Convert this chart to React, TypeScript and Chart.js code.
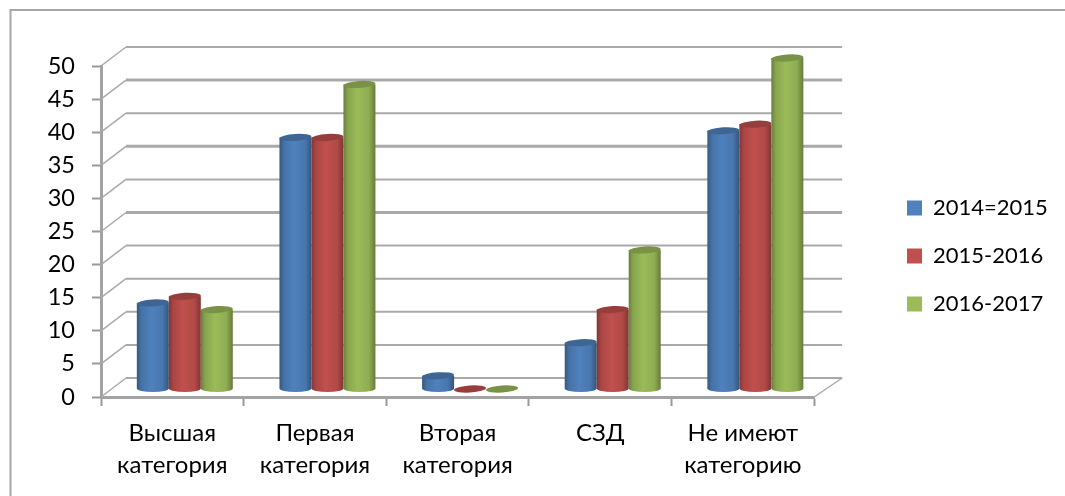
import React, { useEffect, useRef } from "react";
import { Chart, BarController, BarElement, registerables } from "chart.js";

const categories = [
  ["Высшая", "категория"],
  ["Первая", "категория"],
  ["Вторая", "категория"],
  ["СЗД"],
  ["Не имеют", "категорию"],
];
const series1Name = "2014=2015";
const series2Name = "2015-2016";
const series3Name = "2016-2017";
const series1 = [13, 38, 2, 7, 39];
const series2 = [14, 38, 0, 12, 40];
const series3 = [12, 46, 0, 21, 50];
const colours = ["#4F81BD", "#C0504D", "#9BBB59"];

const FONT = "Lato, 'Open Sans', sans-serif";
const GRID = "#a9a9a9";
const WALL_DX = 25;
const WALL_DY = -19;
const BAR_DX = 12.5;
const BAR_DY = -8;
const RIGHT_WALL_DX = 28;

function shade(hex: string, f: number) {
  const n = parseInt(hex.slice(1), 16);
  const c = [(n >> 16) & 255, (n >> 8) & 255, n & 255].map((v) => Math.round(v * f));
  return `rgb(${c[0]},${c[1]},${c[2]})`;
}

class CylinderBar extends BarElement {
  static id = "cylinderBar";
  draw(ctx: CanvasRenderingContext2D) {
    const { x, y, base, width } = (this as any).getProps(["x", "y", "base", "width"]);
    const col = (this as any).options.backgroundColor as string;
    const l = x - width / 2 + BAR_DX;
    const r = x + width / 2 + BAR_DX;
    const cx = (l + r) / 2;
    const rx = width / 2;
    const ry = 3.5;
    const yt = y + BAR_DY;
    const yb = base + BAR_DY;
    ctx.save();
    ctx.filter = "blur(0.6px)";
    if (yb - yt > 0.5) {
      const g = ctx.createLinearGradient(l, 0, r, 0);
      g.addColorStop(0, shade(col, 0.68));
      g.addColorStop(0.14, shade(col, 0.88));
      g.addColorStop(0.45, col);
      g.addColorStop(0.8, shade(col, 0.92));
      g.addColorStop(1, shade(col, 0.66));
      ctx.fillStyle = g;
      ctx.beginPath();
      ctx.moveTo(l, yt);
      ctx.lineTo(l, yb);
      ctx.ellipse(cx, yb, rx, ry, 0, Math.PI, 0, true);
      ctx.lineTo(r, yt);
      ctx.closePath();
      ctx.fill();
    }
    ctx.fillStyle = shade(col, 0.78);
    ctx.beginPath();
    ctx.ellipse(cx, yt, rx, ry, -0.06, 0, Math.PI * 2);
    ctx.fill();
    ctx.restore();
  }
}

class CylinderController extends BarController {
  static id = "cylinder";
  static defaults = { ...(BarController as any).defaults, dataElementType: "cylinderBar" };
  static overrides = (BarController as any).overrides;
}

Chart.register(...registerables, CylinderBar as any, CylinderController as any);

const wallsPlugin = {
  id: "walls",
  beforeDraw(chart: any) {
    const { ctx, width, height } = chart;
    ctx.save();
    ctx.strokeStyle = "#a6a6a6";
    ctx.lineWidth = 2;
    ctx.beginPath();
    ctx.moveTo(width, 10);
    ctx.lineTo(10.5, 10);
    ctx.lineTo(10.5, height);
    ctx.stroke();
    ctx.restore();
  },
  afterLayout(chart: any) {
    chart.legend.left = 881;
    chart.legend.right = 1065;
    chart.legend.top = 16;
    chart.legend.bottom = 496;
  },
  beforeDatasetsDraw(chart: any) {
    const { ctx, chartArea, scales } = chart;
    const { left, right } = chartArea;
    ctx.save();
    ctx.strokeStyle = GRID;
    ctx.lineJoin = "round";
    scales.y.ticks.forEach((t: any) => {
      const py = scales.y.getPixelForValue(t.value);
      ctx.lineWidth = [25, 35, 45].includes(t.value) ? 3 : 2;
      ctx.beginPath();
      ctx.moveTo(left + WALL_DX, py + WALL_DY);
      ctx.lineTo(right + RIGHT_WALL_DX, py + WALL_DY);
      ctx.stroke();
      ctx.lineWidth = 1.5;
      ctx.beginPath();
      ctx.moveTo(left, py);
      ctx.lineTo(left + WALL_DX, py + WALL_DY);
      ctx.stroke();
    });
    const y0 = scales.y.getPixelForValue(0);
    ctx.lineWidth = 1.5;
    ctx.beginPath();
    ctx.moveTo(right, y0);
    ctx.lineTo(right + RIGHT_WALL_DX, y0 + WALL_DY);
    ctx.stroke();
    ctx.restore();
    chart.getSortedVisibleDatasetMetas().forEach((m: any) => m.controller.draw());
    return false;
  },
};

export default function App() {
  const ref = useRef<HTMLCanvasElement>(null);
  useEffect(() => {
    const names = [series1Name, series2Name, series3Name];
    const values = [series1, series2, series3];
    const chart = new Chart(ref.current!, {
      type: "cylinder" as any,
      data: {
        labels: categories as any,
        datasets: names.map((label, i) => ({
          label,
          data: values[i],
          backgroundColor: colours[i],
          categoryPercentage: 0.673,
          barPercentage: 1,
        })),
      },
      plugins: [wallsPlugin as any],
      options: {
        responsive: false,
        animation: false,
        layout: { padding: { left: 0, top: 66, right: 74, bottom: 0 } },
        plugins: {
          title: { display: false },
          tooltip: { enabled: false },
          legend: {
            position: "right",
            labels: {
              boxWidth: 15,
              boxHeight: 15,
              padding: 26,
              color: "#000",
              font: { family: FONT, size: 22, lineHeight: 27 / 22 },
            },
          },
        },
        scales: {
          x: {
            afterFit: (s: any) => { s.height = 99; },
            grid: { drawOnChartArea: false, drawTicks: true, tickLength: 9, tickWidth: 2, tickColor: "#999", offset: true },
            border: { color: "#a3a3a3", width: 3 },
            ticks: {
              color: "#000",
              padding: 11,
              maxRotation: 0,
              autoSkip: false,
              font: { family: FONT, size: 24, lineHeight: 32 / 24 },
            },
          },
          y: {
            min: 0,
            max: 50,
            afterFit: (s: any) => { s.width = 101; },
            grid: { drawOnChartArea: false, drawTicks: true, tickLength: 9, tickWidth: 2, tickColor: "#999" },
            border: { color: "#a3a3a3", width: 3 },
            ticks: {
              stepSize: 5,
              color: "#000",
              padding: 17,
              font: { family: FONT, size: 23.5 },
            },
          },
        },
      } as any,
    });
    return () => chart.destroy();
  }, []);
  return (
    <div style={{ position: "fixed", left: 0, top: 0, width: 1065, height: 496 }}>
      <canvas ref={ref} width={1065} height={496} style={{ display: "block" }} />
    </div>
  );
}
